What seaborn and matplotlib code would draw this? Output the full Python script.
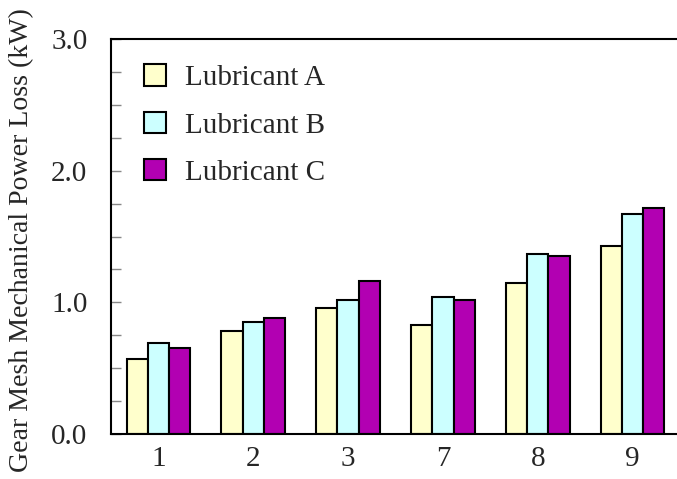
import pandas as pd
import matplotlib.pyplot as plt
import seaborn as sns
from matplotlib.ticker import MultipleLocator

# dati
gears = ["1", "2", "3", "7", "8", "9"]
lub_a = [0.57, 0.78, 0.96, 0.83, 1.15, 1.43]
lub_b = [0.69, 0.85, 1.02, 1.04, 1.37, 1.67]
lub_c = [0.65, 0.88, 1.16, 1.02, 1.35, 1.72]
names = ["Lubricant A", "Lubricant B", "Lubricant C"]
colors = ["#FFFFCC", "#CCFFFF", "#B200B2"]

rows = []
for name, vals in zip(names, [lub_a, lub_b, lub_c]):
    for g, v in zip(gears, vals):
        rows.append({"gear": g, "loss": v, "lubricant": name})
df = pd.DataFrame(rows)

sns.set_theme(style="white")
plt.rcParams["font.family"] = ["Liberation Serif", "DejaVu Serif"]

fig = plt.figure(figsize=(6.77, 4.79), dpi=100)
ax = fig.add_axes([111 / 677, 45 / 479, 569 / 677, 395 / 479])

sns.barplot(data=df, x="gear", y="loss", hue="lubricant", order=gears,
            hue_order=names, palette=colors, saturation=1, width=0.67,
            edgecolor="black", linewidth=1.5, ax=ax)

ax.set_xlim(-0.5, 5.5)
ax.set_ylim(0, 3.0)
ax.yaxis.set_major_locator(MultipleLocator(1.0))
ax.yaxis.set_minor_locator(MultipleLocator(0.25))
ax.set_yticks([0, 1, 2, 3])
ax.set_yticklabels(["0.0", "1.0", "2.0", "3.0"])
ax.tick_params(axis="y", which="both", direction="in", length=7, width=1,
               color="#888888", labelsize=21, pad=17, left=True)
ax.tick_params(axis="x", length=0, labelsize=21, pad=9)

ax.set_xlabel("")
ax.set_ylabel("Gear Mesh Mechanical Power Loss (kW)", fontsize=20.1)
ax.yaxis.set_label_coords(-0.135, 0.49)

for s in ["left", "top", "bottom", "right"]:
    ax.spines[s].set_color("black")
    ax.spines[s].set_linewidth(1.5)

ax.legend(loc="upper left", bbox_to_anchor=(0.037, 0.965), frameon=False,
          fontsize=21, handlelength=0.75, handleheight=0.75,
          handletextpad=0.65, labelspacing=0.7, borderaxespad=0)

plt.savefig("out.png", dpi=100)
plt.close()
